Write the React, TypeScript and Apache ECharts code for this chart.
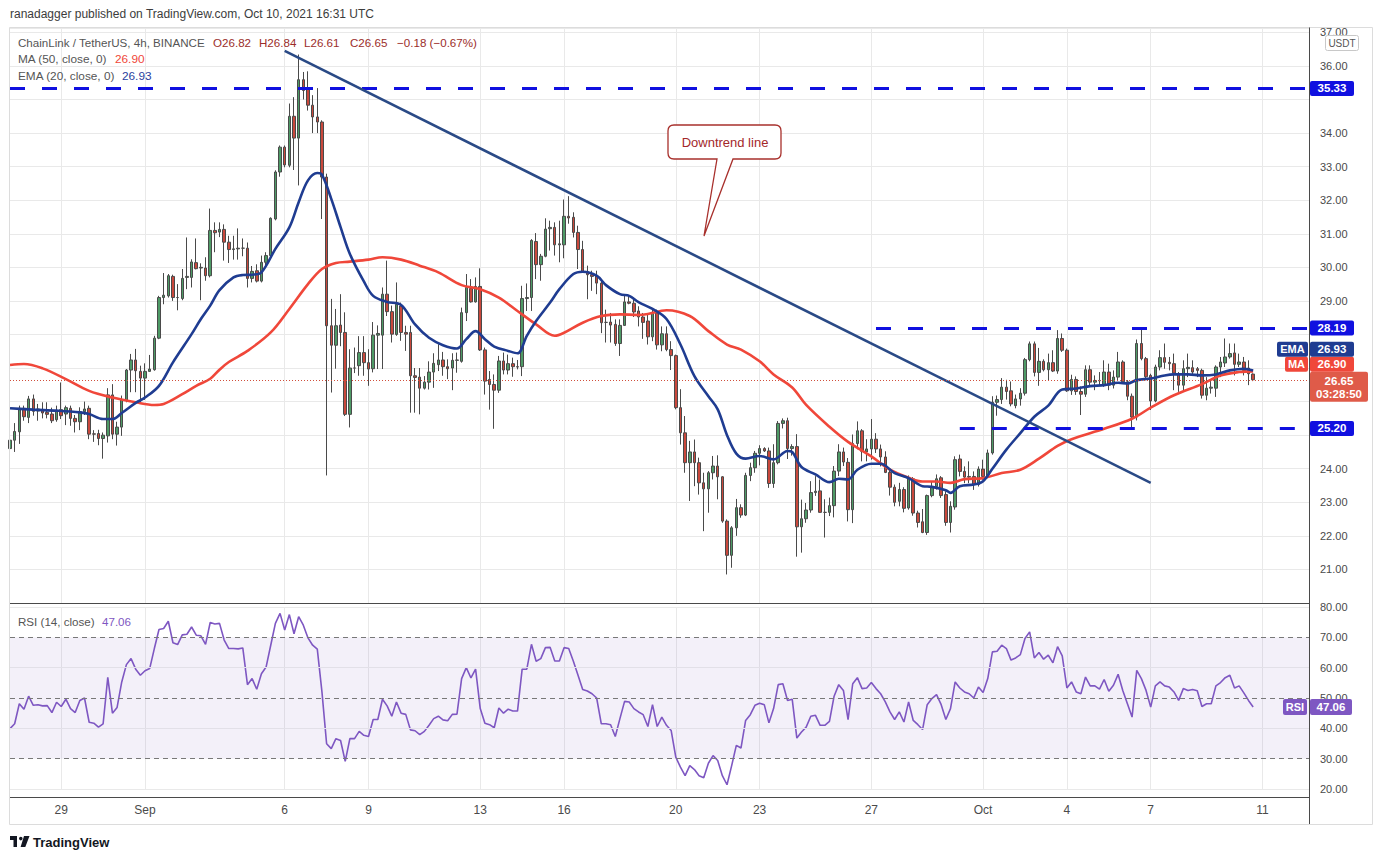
import React, { useEffect, useRef } from "react";
import * as echarts from "echarts";

// ---------- DATA ----------
const startTime = Date.UTC(2021, 7, 27, 4); // first 4h candle
const slotCount = 280; // candles + empty space on the right
const xTicks: [number, string][] = [
  [11, "29"], [29, "Sep"], [59, "6"], [77, "9"], [101, "13"], [119, "16"], [143, "20"],
  [161, "23"], [185, "27"], [209, "Oct"], [227, "4"], [245, "7"], [269, "11"],
];

// [open, close, low, high]
const candles: number[][] = [
  [24.6,24.85,24.29,24.98],[24.85,25.11,24.5,25.36],[25.1,25.8,24.74,25.88],[25.8,25.55,25.43,25.88],[25.53,26.08,25.36,26.17],
  [26.08,25.71,25.58,26.21],[25.72,25.78,25.43,25.93],[25.75,25.66,25.5,25.98],[25.68,25.62,25.5,25.98],[25.63,25.43,25.36,25.82],
  [25.46,25.73,25.4,25.88],[25.76,25.58,25.48,26.57],[25.63,25.82,25.3,25.88],[25.8,25.5,25.28,25.88],[25.5,25.4,25.08,25.6],
  [25.4,25.7,25.15,25.83],[25.7,25.78,25.6,26.0],[25.8,25.03,24.88,25.88],[25.04,25.03,24.8,25.15],[25.05,24.9,24.7,25.16],
  [24.9,25.0,24.3,25.08],[24.98,26.2,24.78,26.4],[26.2,25.03,24.88,26.52],[25.03,25.24,24.69,25.4],[25.24,26.06,24.98,26.18],
  [26.03,26.94,25.98,26.97],[26.94,27.24,26.28,27.42],[27.24,26.92,26.28,27.57],[26.9,26.7,25.95,27.07],[26.7,26.9,26.05,27.14],
  [26.9,26.97,26.89,27.39],[26.95,27.89,26.92,27.96],[27.89,29.1,27.86,29.15],[29.1,29.17,28.9,29.83],[29.15,29.75,29.1,29.8],
  [29.73,29.1,29.0,29.78],[29.1,29.1,28.72,29.5],[29.07,29.67,29.02,29.95],[29.7,29.73,29.35,30.89],[29.7,30.16,29.4,30.24],
  [30.14,29.96,29.94,30.86],[29.98,30.0,29.02,30.12],[29.98,29.75,29.6,30.3],[29.75,31.1,29.7,31.75],[31.1,31.03,30.45,31.34],
  [31.05,31.13,30.9,31.34],[31.13,30.75,30.2,31.28],[30.75,30.53,30.13,30.94],[30.53,30.55,30.23,30.94],[30.55,30.57,30.23,31.16],
  [30.57,30.57,30.33,30.86],[30.57,29.67,29.4,30.74],[29.67,29.88,29.55,30.04],[29.9,29.59,29.55,30.09],[29.59,30.15,29.55,30.35],
  [30.15,30.35,30.05,30.45],[30.35,31.46,30.3,31.49],[31.44,32.84,31.4,32.89],[32.84,33.58,32.7,33.63],[33.58,33.05,32.98,33.63],
  [33.04,34.5,32.98,34.88],[34.5,33.85,32.9,35.07],[33.85,35.59,32.44,36.34],[35.59,35.27,35.0,35.82],[35.3,34.83,34.67,35.84],
  [34.83,34.48,34.0,35.13],[34.48,34.33,34.0,35.34],[34.33,32.69,31.44,34.38],[32.69,28.26,23.8,32.79],[28.26,27.68,26.27,29.06],
  [27.68,28.26,26.98,28.76],[28.28,28.06,27.65,29.2],[28.06,25.62,25.57,28.66],[25.62,27.0,25.23,27.56],[27.0,27.0,26.85,27.61],
  [27.07,27.46,26.77,27.95],[27.46,27.16,26.77,27.95],[27.16,26.97,26.47,27.56],[26.98,27.98,26.87,28.37],[27.98,28.03,26.97,28.27],
  [27.98,29.2,26.97,29.4],[29.2,28.68,28.55,30.2],[28.68,28.01,27.76,28.86],[28.0,28.9,27.96,29.55],[28.85,28.06,27.81,28.95],
  [28.06,28.01,27.51,28.26],[28.06,26.77,25.67,28.26],[26.77,26.72,25.67,27.0],[26.73,26.4,25.62,27.0],[26.4,26.58,26.36,26.76],
  [26.58,26.88,26.36,27.2],[26.88,27.14,26.41,27.44],[27.1,27.24,26.91,27.71],[27.24,27.04,26.77,27.48],[27.04,26.98,26.67,27.26],
  [27.0,27.23,26.34,27.44],[27.23,27.24,26.86,27.46],[27.2,28.65,27.16,28.8],[28.65,29.4,28.4,29.8],[29.37,28.97,28.95,29.65],
  [28.97,29.43,28.95,29.7],[29.43,27.54,27.51,29.97],[27.54,26.61,26.21,27.61],[26.66,26.51,25.76,26.91],[26.51,26.34,25.19,26.81],
  [26.34,27.21,26.26,27.36],[27.21,26.94,26.81,27.46],[26.94,27.13,26.81,27.4],[27.13,27.04,26.74,27.31],[27.04,27.03,26.96,27.24],
  [27.04,29.07,26.76,29.45],[29.07,29.1,28.7,29.52],[29.1,30.8,28.7,30.84],[30.77,30.08,29.65,31.02],[30.08,30.33,29.6,30.4],
  [30.33,31.14,30.3,31.46],[31.15,31.19,30.5,31.39],[31.19,30.67,30.35,31.34],[30.67,30.7,30.15,31.39],[30.67,31.52,30.27,32.02],
  [31.52,31.47,31.3,32.12],[31.49,31.04,30.89,31.64],[31.04,30.53,29.95,31.24],[30.53,29.87,29.85,30.79],[29.87,29.78,29.05,30.05],
  [29.78,29.73,29.3,29.9],[29.75,29.53,29.2,29.9],[29.53,28.35,28.04,29.65],[28.36,28.36,27.76,28.74],[28.37,28.28,27.76,28.64],
  [28.3,27.73,27.66,28.45],[27.73,28.27,27.36,28.45],[28.27,28.97,28.26,29.2],[28.97,28.93,28.9,29.18],[28.93,28.67,28.52,29.1],
  [28.7,28.52,28.24,28.84],[28.52,28.36,27.87,28.64],[28.4,27.93,27.7,28.6],[27.93,28.64,27.8,28.74],[28.64,27.69,27.55,28.74],
  [27.69,28.02,27.5,28.24],[28.02,27.55,27.5,28.24],[27.55,27.37,26.94,27.8],[27.37,25.82,25.77,27.4],[25.82,25.07,24.72,26.37],
  [25.07,24.18,23.88,25.57],[24.18,24.5,23.04,24.83],[24.5,24.18,23.48,24.87],[24.18,23.58,23.23,24.33],[23.58,23.4,22.14,23.88],
  [23.4,23.88,22.69,23.93],[23.88,24.08,23.68,24.38],[24.08,23.76,23.09,24.4],[23.76,22.44,22.39,23.78],[22.44,21.42,20.85,22.49],
  [21.42,22.24,21.05,22.29],[22.24,22.84,22.0,23.1],[22.84,22.62,22.54,22.94],[22.62,23.8,22.59,23.88],[23.8,24.03,23.63,24.18],
  [24.03,24.46,23.88,24.53],[24.46,24.6,24.1,24.7],[24.6,24.53,24.5,24.64],[24.53,23.56,23.43,24.63],[23.56,24.18,23.43,24.73],
  [24.18,25.35,24.13,25.42],[25.35,25.43,25.2,25.5],[25.43,24.6,24.29,25.52],[24.6,24.66,24.39,24.73],[24.66,22.27,21.38,25.03],
  [22.27,22.51,21.5,23.08],[22.51,22.77,22.39,22.98],[22.77,23.29,22.69,23.63],[23.29,23.33,23.19,23.78],[23.34,22.7,22.69,23.68],
  [22.7,22.7,21.95,23.09],[22.7,22.9,22.59,23.14],[22.9,23.93,22.55,24.08],[23.93,24.5,23.78,24.73],[24.5,24.2,24.08,24.63],
  [24.19,22.78,22.43,24.32],[22.78,24.75,22.38,25.02],[24.75,25.13,24.58,25.41],[25.13,24.52,24.22,25.18],[24.5,24.59,24.22,24.88],
  [24.59,24.88,24.27,25.48],[24.88,24.59,24.47,25.06],[24.59,24.35,24.07,24.72],[24.35,23.89,23.87,24.52],[23.89,23.45,23.2,24.02],
  [23.45,23.0,22.88,23.53],[23.03,23.38,22.88,23.58],[23.38,22.82,22.7,23.45],[22.83,23.7,22.78,23.8],[23.7,22.68,22.6,23.75],
  [22.68,22.4,22.25,22.75],[22.42,22.1,22.08,22.8],[22.1,23.2,22.03,23.23],[23.2,23.47,23.15,23.62],[23.47,23.7,23.38,23.83],
  [23.73,23.2,23.13,23.78],[23.23,22.4,22.3,23.33],[22.4,22.88,22.1,23.03],[22.86,24.27,22.78,24.37],[24.29,23.92,23.77,24.42],
  [23.92,23.75,23.57,24.07],[23.75,23.77,23.57,24.22],[23.77,23.53,23.37,23.92],[23.53,23.99,23.47,24.07],[23.99,23.77,23.67,24.27],
  [23.77,24.47,23.72,24.57],[24.47,25.98,24.42,26.16],[25.98,26.06,25.58,26.18],[26.06,26.43,25.93,26.7],[26.43,26.3,26.06,26.65],
  [26.32,25.93,25.86,26.6],[25.88,26.08,25.8,26.21],[26.08,26.25,25.88,26.4],[26.25,27.25,26.18,27.3],[27.25,27.72,27.2,27.79],
  [27.72,26.87,26.75,27.79],[26.87,27.2,26.47,27.6],[27.2,26.95,26.9,27.26],[26.95,27.16,26.63,27.43],[27.16,26.91,26.88,27.53],
  [26.91,27.88,26.83,28.13],[27.88,27.53,27.48,28.03],[27.53,26.32,26.29,27.58],[26.32,26.66,26.2,26.8],[26.66,26.3,26.2,26.75],
  [26.3,26.22,25.6,26.45],[26.22,26.95,26.14,27.08],[26.95,26.58,26.49,27.08],[26.58,26.63,26.34,26.78],[26.63,26.62,26.49,26.88],
  [26.49,26.88,26.44,27.23],[26.88,26.49,26.34,27.13],[26.49,26.73,26.39,26.93],[26.73,27.18,26.63,27.48],[27.18,26.59,26.54,27.23],
  [26.59,26.16,26.04,26.64],[26.16,25.54,25.24,26.24],[25.54,27.73,25.44,27.85],[27.73,27.28,27.23,28.18],[27.28,26.74,26.64,27.33],
  [26.78,26.02,25.75,26.83],[26.02,27.03,25.98,27.1],[27.03,27.31,26.93,27.53],[27.31,27.17,26.98,27.73],[27.17,27.13,26.93,27.33],
  [27.13,26.85,26.34,27.43],[26.83,26.49,26.29,26.88],[26.49,26.98,26.34,27.23],[26.98,27.02,26.73,27.43],[27.01,26.88,26.78,27.23],
  [26.98,26.93,26.73,27.03],[26.93,26.19,26.09,26.98],[26.19,26.4,26.04,26.73],[26.4,26.43,26.24,26.63],[26.4,27.03,26.14,27.08],
  [27.03,27.18,26.73,27.33],[27.15,27.33,27.03,27.88],[27.33,27.43,27.28,27.73],[27.45,27.11,26.78,27.73],[27.11,27.18,27.03,27.43],
  [27.18,26.93,26.78,27.33],[27.0,26.83,26.49,27.23],[26.82,26.65,26.61,26.84],
];

// [candle index, value]
const ema20: number[][] = [
  [0,25.8],[5,25.76],[10,25.73],[15,25.68],[17,25.63],[20,25.48],[22,25.48],[24,25.66],[27,25.96],[29,26.12],
  [32,26.47],[35,27.17],[39,28.01],[41,28.46],[43,28.86],[45,29.32],[48,29.7],[50,29.77],[52,29.78],[54,29.85],
  [57,30.55],[60,31.19],[62,31.94],[64,32.59],[66,32.81],[67,32.76],[69,32.04],[71,31.2],[73,30.4],[76,29.58],
  [78,29.15],[81,28.97],[84,28.88],[87,28.3],[90,27.9],[93,27.68],[96,27.58],[98,27.86],[100,28.1],[102,27.86],
  [104,27.64],[107,27.51],[109,27.44],[111,27.96],[113,28.4],[116,28.95],[118,29.35],[121,29.8],[123,29.87],[126,29.75],
  [128,29.47],[131,29.2],[133,29.15],[135,28.96],[138,28.76],[141,28.46],[144,27.7],[147,26.76],[150,26.16],[152,25.77],
  [154,25.0],[156,24.45],[158,24.3],[161,24.38],[164,24.28],[167,24.53],[168,24.5],[170,24.05],[173,23.83],[176,23.6],
  [178,23.7],[180,23.68],[182,23.97],[185,24.15],[187,24.15],[190,23.87],[193,23.72],[196,23.48],[198,23.46],[201,23.36],
  [202,23.28],[204,23.48],[207,23.53],[209,23.63],[211,24.0],[214,24.57],[217,25.06],[220,25.55],[223,25.88],[226,26.36],
  [229,26.39],[232,26.46],[235,26.49],[238,26.56],[240,26.54],[242,26.64],[245,26.69],[248,26.78],[250,26.81],[253,26.81],
  [256,26.78],[259,26.81],[262,26.93],[265,26.98],[267,26.93],
];
const ma50: number[][] = [
  [0,27.09],[3,27.12],[7,26.99],[12,26.67],[17,26.32],[22,26.12],[27,25.98],[31,25.9],[33,25.93],[37,26.22],
  [40,26.47],[43,26.68],[45,26.95],[47,27.18],[51,27.51],[56,28.06],[60,28.76],[64,29.5],[67,29.95],[70,30.13],
  [73,30.17],[77,30.23],[80,30.3],[84,30.23],[88,30.05],[92,29.85],[97,29.47],[101,29.35],[105,29.1],[109,28.7],
  [113,28.3],[117,27.96],[119,28.05],[123,28.35],[127,28.55],[131,28.6],[135,28.58],[137,28.61],[141,28.72],[146,28.55],
  [150,28.1],[154,27.7],[157,27.55],[161,27.2],[164,26.81],[168,26.42],[171,25.9],[176,25.25],[180,24.8],[185,24.37],
  [189,23.97],[193,23.73],[196,23.62],[199,23.62],[202,23.58],[205,23.69],[209,23.72],[213,23.87],[217,23.97],[221,24.3],
  [225,24.68],[228,24.88],[235,25.19],[241,25.49],[245,25.82],[250,26.19],[256,26.52],[260,26.78],[264,26.88],[267,26.9],
];
const rsi14: number[] = [
  39.9,41.5,48.1,46.3,50.6,47.6,47.8,47.4,47.5,45.2,
  48.6,47.2,49.6,46.5,45.2,49.2,50.0,42.0,41.7,40.4,
  41.5,56.8,45.0,46.9,55.3,61.0,63.0,59.5,57.5,59.0,
  59.7,66.3,72.6,72.9,75.3,68.2,67.6,70.8,71.0,73.4,
  70.7,70.5,67.7,74.9,74.4,74.6,69.1,66.3,66.3,66.2,
  66.5,54.4,56.4,52.9,58.0,60.2,67.4,74.6,77.9,72.4,
  77.5,71.2,76.8,74.0,69.8,67.4,66.1,52.0,34.9,33.3,
  36.6,36.0,29.1,36.6,36.6,39.0,37.7,37.3,42.9,42.9,
  49.6,47.4,44.0,48.7,45.0,44.6,39.5,39.2,37.9,39.0,
  41.0,43.2,44.0,42.8,42.5,44.6,44.7,56.4,60.0,56.6,
  59.5,46.5,41.7,41.2,40.2,46.7,45.0,46.3,45.7,45.7,
  59.5,59.5,67.7,62.1,63.0,66.6,66.7,62.2,62.2,66.6,
  66.3,62.1,57.5,52.8,52.3,51.4,50.0,41.5,41.5,41.2,
  37.3,43.2,48.9,48.7,46.5,45.4,44.5,40.6,47.8,40.6,
  43.7,41.0,39.3,30.5,27.2,24.4,27.7,26.4,24.4,23.7,
  28.5,31.0,29.4,24.4,21.4,27.7,34.4,33.5,42.6,44.5,
  47.6,48.3,47.8,41.8,46.5,54.4,54.7,49.2,49.6,36.8,
  38.8,40.4,44.0,44.3,41.0,41.0,42.3,50.6,54.4,52.5,
  42.9,54.7,56.7,53.1,53.3,55.1,53.1,51.4,48.7,45.4,
  42.9,45.4,42.1,48.7,42.6,41.2,39.6,47.8,49.8,51.1,
  47.8,42.9,46.5,55.3,53.3,52.0,51.4,50.0,53.6,51.8,
  56.4,65.2,65.4,67.4,66.3,62.5,63.2,64.3,69.6,71.8,
  63.2,65.0,62.8,64.1,61.6,66.9,63.9,53.3,55.3,52.0,
  51.4,56.9,54.0,54.0,52.9,56.1,52.2,54.2,57.8,52.5,
  48.1,43.7,59.1,56.4,52.5,47.0,54.0,55.3,54.0,53.6,
  52.0,49.2,53.1,52.5,52.8,52.4,47.2,48.1,48.1,54.0,
  55.1,56.7,57.5,53.3,54.0,51.7,49.2,47.06,
];

const levelValues = [35.33, 28.19, 25.2];
const levelLabels = ["35.33", "28.19", "25.20"];
const levelStartIdx = [0, 186, 204];
const trendStart = [59, 36.45];
const trendEnd = [245, 23.58];
const lastPrice = 26.65;
const lastMA = 26.9;
const lastEMA = 26.93;
const lastRSI = 47.06;
const hiddenPriceTicks = [35, 28, 27, 26, 25]; // covered by the tags on the scale
const headerValues = ["O26.82", "H26.84", "L26.61", "C26.65", "\u22120.18 (\u22120.67%)"];
const headerValueX = [213, 259, 304, 350, 397];

// ---------- STYLE ----------
const FONT = '"Liberation Sans", Arial, sans-serif';
const LEVEL_BLUE = "#1010e0";
const MA_RED = "#f0473a";
const EMA_BLUE = "#1f3c91";
const RSI_PURPLE = "#7e57c2";

const CALLOUT_D =
  "M674 125 L775 125 Q781 125 781 131 L781 153 Q781 159 775 159 L733 159 L704 236 L717 159 L674 159 Q668 159 668 153 L668 131 Q668 125 674 125 Z";
const TV_LOGO_D =
  "M10 836 L17 836 L17 847 L13.5 847 L13.5 840 L10 840 Z M19 838.6 A1.8 1.8 0 1 0 22.6 838.6 A1.8 1.8 0 1 0 19 838.6 Z M24 836 L29.5 836 L25.3 847 L20.6 847 Z";

let shapesRegistered = false;
function registerShapes() {
  if (shapesRegistered) return;
  shapesRegistered = true;
  echarts.graphic.registerShape("downtrendCallout", echarts.graphic.extendPath(CALLOUT_D, {}) as any);
  echarts.graphic.registerShape("tvLogo", echarts.graphic.extendPath(TV_LOGO_D, {}) as any);
}

const categories = Array.from({ length: slotCount }, (_, i) =>
  new Date(startTime + i * 4 * 3600 * 1000).toISOString().slice(0, 16)
);
const tickMap = new Map<number, string>(xTicks);

function txt(x: number, y: number, text: string, fill: string, size = 12, align = "left", weight = "normal") {
  return {
    type: "text",
    x,
    y,
    z: 100,
    silent: true,
    style: { text, fill, font: `${weight} ${size}px ${FONT}`, textAlign: align, verticalAlign: "middle" },
  };
}
function box(x: number, y: number, w: number, h: number, fill: string, stroke?: string, r = 2) {
  return {
    type: "rect",
    z: 99,
    silent: true,
    shape: { x, y, width: w, height: h, r },
    style: { fill, stroke: stroke || null, lineWidth: 1 },
  };
}
function ln(x1: number, y1: number, x2: number, y2: number, stroke: string, lineWidth = 1) {
  return { type: "line", z: 98, silent: true, shape: { x1, y1, x2, y2 }, style: { stroke, lineWidth } };
}

const GRID_LEFT = 10;
const GRID_RIGHT_X = 1309;
const PRICE_TOP = 28;
const PRICE_BOTTOM = 603;
const RSI_TOP = 607;
const RSI_BOTTOM = 789;

function buildOption(): any {
  const dashed = { color: LEVEL_BLUE, width: 3, type: [15, 17] };
  const levelLines = levelValues.map((v, i) => [
    { coord: [levelStartIdx[i], v], lineStyle: dashed },
    { coord: [slotCount - 1, v] },
  ]);
  return {
    animation: false,
    backgroundColor: "#ffffff",
    textStyle: { fontFamily: FONT },
    grid: [
      { left: GRID_LEFT, top: PRICE_TOP, width: GRID_RIGHT_X - GRID_LEFT, height: PRICE_BOTTOM - PRICE_TOP },
      { left: GRID_LEFT, top: RSI_TOP, width: GRID_RIGHT_X - GRID_LEFT, height: RSI_BOTTOM - RSI_TOP },
    ],
    xAxis: [
      {
        gridIndex: 0,
        type: "category",
        data: categories,
        boundaryGap: false,
        axisLine: { show: false },
        axisTick: { show: false },
        axisLabel: { show: false },
        splitLine: { show: true, interval: (i: number) => tickMap.has(i), lineStyle: { color: "#e9e9e9", width: 1 } },
      },
      {
        gridIndex: 1,
        type: "category",
        data: categories,
        boundaryGap: false,
        axisLine: { show: false },
        axisTick: { show: false },
        axisLabel: {
          show: true,
          interval: (i: number) => tickMap.has(i),
          formatter: (_v: string, i: number) => tickMap.get(i) || "",
          color: "#4a4a4a",
          fontSize: 12,
          margin: 15,
          fontFamily: FONT,
        },
        splitLine: { show: true, interval: (i: number) => tickMap.has(i), lineStyle: { color: "#e9e9e9", width: 1 } },
      },
    ],
    yAxis: [
      {
        gridIndex: 0,
        type: "value",
        position: "right",
        min: 20,
        max: 37.13,
        interval: 1,
        axisLine: { show: false },
        axisTick: { show: false },
        axisLabel: {
          color: "#4a4a4a",
          fontSize: 11,
          margin: 11,
          fontFamily: FONT,
          formatter: (v: number) => {
            const r = Math.round(v);
            if (Math.abs(v - r) > 1e-6 || r <= 20 || hiddenPriceTicks.indexOf(r) >= 0) return "";
            return v.toFixed(2);
          },
        },
        splitLine: { show: true, lineStyle: { color: "#e9e9e9", width: 1 } },
      },
      {
        gridIndex: 1,
        type: "value",
        position: "right",
        min: 20,
        max: 80,
        interval: 10,
        axisLine: { show: false },
        axisTick: { show: false },
        axisLabel: { color: "#4a4a4a", fontSize: 11, margin: 11, fontFamily: FONT, formatter: (v: number) => v.toFixed(2) },
        splitLine: { show: false },
      },
    ],
    series: [
      {
        type: "candlestick",
        name: "LINKUSDT",
        xAxisIndex: 0,
        yAxisIndex: 0,
        data: candles,
        barWidth: 3,
        z: 2,
        itemStyle: {
          color: "#4e9a66",
          color0: "#c9483c",
          borderColor: "#4a4a4a",
          borderColor0: "#4a4a4a",
          borderWidth: 1,
        },
        markLine: {
          silent: true,
          symbol: ["none", "none"],
          label: { show: false },
          z: 4,
          data: [
            ...levelLines,
            [
              { coord: trendStart, lineStyle: { color: "#2a4a86", width: 2.6, type: "solid" } },
              { coord: trendEnd },
            ],
            { yAxis: lastPrice, lineStyle: { color: "#d0503c", width: 1, type: [1, 2] } },
          ],
        },
      },
      {
        type: "line",
        name: "MA 50",
        xAxisIndex: 0,
        yAxisIndex: 0,
        data: ma50,
        smooth: 0.35,
        showSymbol: false,
        z: 3,
        lineStyle: { color: MA_RED, width: 2.6 },
      },
      {
        type: "line",
        name: "EMA 20",
        xAxisIndex: 0,
        yAxisIndex: 0,
        data: ema20,
        smooth: 0.35,
        showSymbol: false,
        z: 3,
        lineStyle: { color: EMA_BLUE, width: 2.6 },
      },
      {
        type: "line",
        name: "RSI",
        xAxisIndex: 1,
        yAxisIndex: 1,
        data: rsi14,
        showSymbol: false,
        z: 3,
        lineStyle: { color: RSI_PURPLE, width: 1.6 },
        markArea: {
          silent: true,
          itemStyle: { color: "rgba(126,87,194,0.09)" },
          data: [[{ yAxis: 30 }, { yAxis: 70 }]],
        },
        markLine: {
          silent: true,
          symbol: ["none", "none"],
          label: { show: false },
          data: [
            { yAxis: 80, lineStyle: { color: "#e9e9e9", width: 1, type: "solid" } },
            { yAxis: 60, lineStyle: { color: "#e2e0e8", width: 1, type: "solid" } },
            { yAxis: 40, lineStyle: { color: "#e2e0e8", width: 1, type: "solid" } },
            { yAxis: 20, lineStyle: { color: "#e9e9e9", width: 1, type: "solid" } },
            { yAxis: 70, lineStyle: { color: "#787878", width: 1, type: [5, 4] } },
            { yAxis: 50, lineStyle: { color: "#787878", width: 1, type: [5, 4] } },
            { yAxis: 30, lineStyle: { color: "#787878", width: 1, type: [5, 4] } },
          ],
        },
      },
    ],
  };
}

function buildGraphics(chart: any): any[] {
  const py = (v: number) => chart.convertToPixel({ yAxisIndex: 0 }, v) as number;
  const ry = (v: number) => chart.convertToPixel({ yAxisIndex: 1 }, v) as number;
  const g: any[] = [];

  // frame and separators
  g.push({
    type: "rect",
    z: 97,
    silent: true,
    shape: { x: 9.5, y: 27.5, width: 1363, height: 797 },
    style: { fill: null, stroke: "#dcdcdc", lineWidth: 1 },
  });
  g.push(ln(GRID_LEFT, 603.5, GRID_RIGHT_X, 603.5, "#4a4a4a", 1.2));
  g.push(ln(GRID_RIGHT_X + 0.5, 27.5, GRID_RIGHT_X + 0.5, 824, "#4a4a4a", 1));
  g.push(ln(GRID_LEFT, 797.5, GRID_RIGHT_X, 797.5, "#4a4a4a", 1));

  // publisher line
  g.push(txt(10, 14, "ranadagger published on TradingView.com, Oct 10, 2021 16:31 UTC", "#3c3c3c", 12));

  // legend
  g.push(txt(18, 42, "ChainLink / TetherUS, 4h, BINANCE", "#555555", 11.6));
  headerValues.forEach((t, i) => g.push(txt(headerValueX[i], 42, t, "#9b2d2a", 11.6)));
  g.push(txt(18, 59, "MA (50, close, 0)", "#555555", 11.8));
  g.push(txt(115, 59, lastMA.toFixed(2), MA_RED, 11.8));
  g.push(txt(18, 76, "EMA (20, close, 0)", "#555555", 11.8));
  g.push(txt(122, 76, lastEMA.toFixed(2), "#2a3f9e", 11.8));
  g.push(txt(18, 621, "RSI (14, close)", "#555555", 11.6));
  g.push(txt(102, 621, lastRSI.toFixed(2), RSI_PURPLE, 11.6));

  // callout
  g.push({
    type: "downtrendCallout",
    x: 0,
    y: 0,
    z: 99,
    silent: true,
    style: { fill: "#ffffff", stroke: "#a8302c", lineWidth: 1.3 },
  });
  g.push(txt(725, 142, "Downtrend line", "#a3282a", 13, "center"));

  // USDT box
  g.push(box(1325.5, 35.5, 33, 15, "#ffffff", "#c8c8c8", 2));
  g.push(txt(1342, 43, "USDT", "#555555", 10, "center"));

  // level tags
  levelValues.forEach((v, i) => {
    const y = py(v);
    g.push(box(1310, y - 7.5, 44, 15, LEVEL_BLUE, undefined, 2));
    g.push(txt(1332, y, levelLabels[i], "#ffffff", 11.5, "center", "bold"));
  });

  // price / MA / EMA tags
  const pTop = py(lastPrice) - 8;
  g.push(box(1310, pTop, 58, 30, "#df5b49", undefined, 2));
  g.push(txt(1339, pTop + 9, lastPrice.toFixed(2), "#ffffff", 11.5, "center", "bold"));
  g.push(txt(1339, pTop + 22, "03:28:50", "#ffffff", 11.5, "center", "bold"));

  const maC = pTop - 7.5;
  g.push(box(1285, maC - 7.5, 23, 15, MA_RED, undefined, 2));
  g.push(txt(1296.5, maC, "MA", "#ffffff", 11, "center", "bold"));
  g.push(box(1310, maC - 7.5, 44, 15, MA_RED, undefined, 2));
  g.push(txt(1332, maC, lastMA.toFixed(2), "#ffffff", 11.5, "center", "bold"));

  const emaC = maC - 15;
  g.push(box(1277, emaC - 7.5, 31, 15, EMA_BLUE, undefined, 2));
  g.push(txt(1292.5, emaC, "EMA", "#ffffff", 11, "center", "bold"));
  g.push(box(1310, emaC - 7.5, 44, 15, EMA_BLUE, undefined, 2));
  g.push(txt(1332, emaC, lastEMA.toFixed(2), "#ffffff", 11.5, "center", "bold"));

  // RSI tag
  const rc = ry(lastRSI);
  g.push(box(1283, rc - 8, 24, 16, RSI_PURPLE, undefined, 2));
  g.push(txt(1295, rc, "RSI", "#ffffff", 11, "center", "bold"));
  g.push(box(1310, rc - 8, 42, 16, RSI_PURPLE, undefined, 2));
  g.push(txt(1331, rc, lastRSI.toFixed(2), "#ffffff", 11.5, "center", "bold"));

  // TradingView footer
  g.push({ type: "tvLogo", x: 0, y: 0, z: 99, silent: true, style: { fill: "#131722" } });
  g.push(txt(33, 842, "TradingView", "#131722", 13, "left", "bold"));

  return g;
}

export default function App() {
  const ref = useRef<HTMLDivElement>(null);
  useEffect(() => {
    registerShapes();
    const el = ref.current;
    if (!el) return;
    const chart = echarts.init(el, null, { renderer: "svg" });
    chart.setOption(buildOption());
    chart.setOption({ graphic: buildGraphics(chart) });
    return () => {
      chart.dispose();
    };
  }, []);
  return (
    <div
      ref={ref}
      style={{ position: "absolute", left: 0, top: 0, width: 1382, height: 860, background: "#ffffff" }}
    />
  );
}
